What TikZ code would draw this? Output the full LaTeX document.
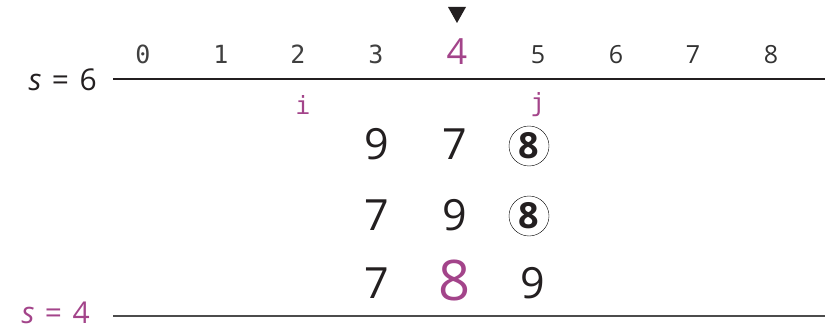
\documentclass[tikz,border=0pt]{standalone}
\usepackage{fontspec}
\setmainfont{Open Sans}
\setmonofont{DejaVu Sans Mono}
\definecolor{cmag}{RGB}{163,68,138}
\definecolor{cink}{RGB}{35,31,32}
\tikzset{swapsec/.style={x=1pt,y=-1pt},
  idxmono/.style={anchor=base,text=black!75,font=\ttfamily\fontsize{25}{25}\selectfont},
  idxsans/.style={anchor=base,text=black!80,font=\fontsize{25}{25}\selectfont},
  val/.style={anchor=base,text=cink,font=\fontsize{43}{43}\selectfont},
  lvl/.style={anchor=base east,text depth=0pt,inner sep=1pt,font=\fontsize{30}{30}\selectfont},
  ringval/.style={circle,draw,thin,inner sep=0pt,minimum size=40pt,text=cink,font=\bfseries\fontsize{36}{36}\selectfont}}

\begin{document}
\begin{tikzpicture}[swapsec]
    \useasboundingbox (0,0) rectangle (825,329);
    \def\ytop{79}\def\ybot{316}
    % index row
    \foreach \x/\k in {143/0,221/1,298/2,376/3} \node[idxmono] (i\k) at (\x,64) {\k};
    \foreach \x/\k in {538/5,616/6,693/7,771/8} \node[idxsans] (i\k) at (\x,64) {\k};
    \node[idxsans,text=cmag,font=\fontsize{36}{36}\selectfont] (i4) at (457,65) {4};
    \fill[cink] (448,7) -- (466,7) -- (457,23) -- cycle;
    % level lines
    \coordinate (ta) at (113,\ytop); \coordinate (tb) at (825,\ytop);
    \coordinate (ba) at (113,\ybot); \coordinate (bb) at (825,\ybot);
    \draw[cink,line width=1.3pt] (ta) -- (tb);
    \draw[black!70,line width=1.3pt] (ba) -- (bb);
    \node[lvl,text=cink] (s6) at (98,91) {\textit{s}\hspace{0.35em}=\hspace{0.35em}6};
    \node[lvl,text=cmag] (s4) at (91,323) {\textit{s}\hspace{0.35em}=\hspace{0.35em}4};
    % pointers
    \node[idxmono,text=cmag] (pi) at (303,114) {i};
    \node[idxmono,text=cmag] (pj) at (538,111) {j};
    % rows
    \node[val] (a1) at (377,159) {9};
    \node[val] (b1) at (455,159) {7};
    \node[ringval] (c1) at (529,146) {8};
    \node[val] (a2) at (377,230) {7};
    \node[val] (b2) at (455,230) {9};
    \node[ringval] (c2) at (529,216) {8};
    \node[val] (a3) at (377,298) {7};
    \node[val,text=cmag,font=\fontsize{56}{56}\selectfont] (b3) at (455,300) {8};
    \node[val] (c3) at (533,298) {9};
\end{tikzpicture}
\end{document}
